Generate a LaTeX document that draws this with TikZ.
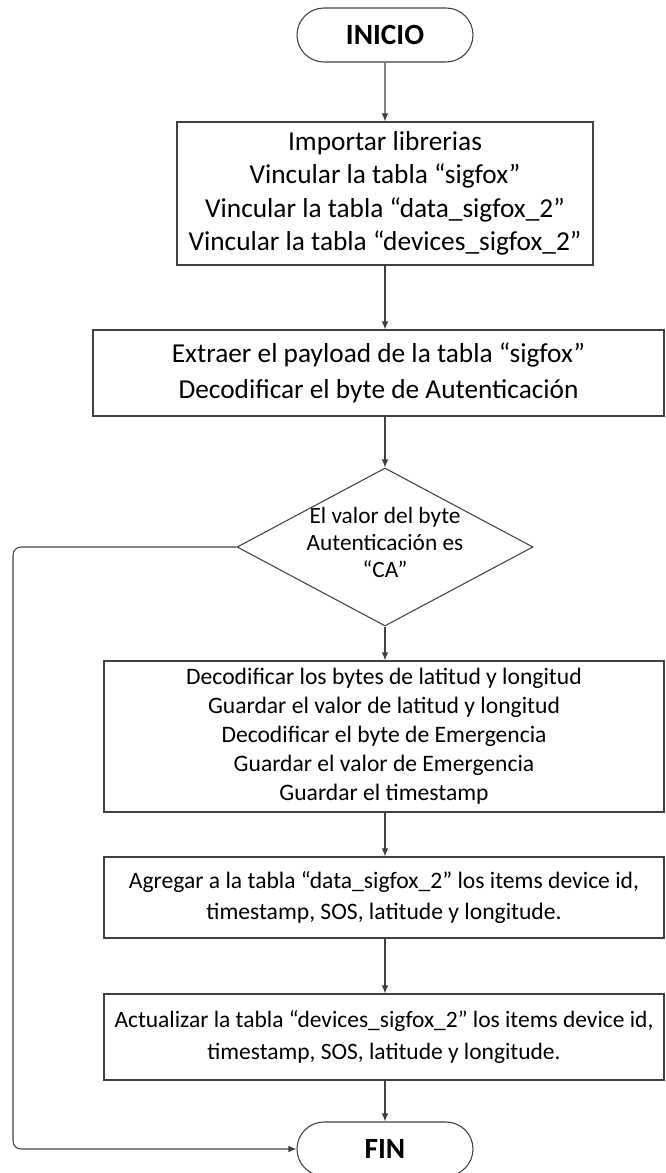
\documentclass[tikz,border=0pt]{standalone}
\usepackage{fontspec}
\setmainfont{Carlito}
\usetikzlibrary{shapes,arrows.meta,positioning}
\tikzstyle{term} = [draw=black!75,line width=0.8pt,rounded rectangle,minimum width=132pt,minimum height=40.5pt,inner sep=0,font=\fontsize{22}{26}\selectfont\bfseries]
\tikzstyle{proc} = [draw=black!75,line width=0.8pt,rectangle,align=center,inner sep=0,minimum width=420pt]
\tikzstyle{cond} = [draw=black!75,line width=0.8pt,diamond,minimum width=222pt,minimum height=118.5pt,inner sep=0]
\tikzstyle{flow} = [-{Latex[length=6pt,width=5pt]},draw=black!75,line width=0.8pt]
\def \txtbig {\fontsize{20.5}{25}\selectfont}
\def \txtsmall {\fontsize{17.7}{22}\selectfont}

\begin{document}
\begin{tikzpicture}[x=0.75pt,y=-0.75pt]
  \useasboundingbox (0,0) rectangle (665,1173);
  \node[term] (ini) at (385,35) {INICIO};
  \node[proc,minimum width=312pt,minimum height=107.25pt,font=\txtbig] (imp) at (385,193.5)
    {Importar librerias\\Vincular la tabla “sigfox”\\Vincular la tabla “data\_sigfox\_2”\\Vincular la tabla “devices\_sigfox\_2”};
  \node[proc,minimum width=428.25pt,minimum height=64.5pt,font=\fontsize{20.5}{27}\selectfont] (ext) at (378.5,373)
    {Extraer el payload de la tabla “sigfox”\\Decodificar el byte de Autenticación};
  \node[cond] (val) at (385,547) {};
  \node[align=center,inner sep=0,font=\fontsize{17.5}{20.25}\selectfont] (valtxt) at (385,542)
    {El valor del byte\\Autenticación es\\“CA”};
  \node[proc,minimum height=113.25pt,font=\fontsize{17.7}{21.75}\selectfont] (dec) at (384,736.5)
    {Decodificar los bytes de latitud y longitud\\Guardar el valor de latitud y longitud\\Decodificar el byte de Emergencia\\Guardar el valor de Emergencia\\Guardar el timestamp};
  \node[proc,minimum height=60.75pt,font=\fontsize{17.7}{23.25}\selectfont] (agr) at (384,897.5)
    {Agregar a la tabla “data\_sigfox\_2” los items device id,\\timestamp, SOS, latitude y longitude.};
  \node[proc,minimum height=64.5pt,font=\fontsize{17.6}{24}\selectfont] (act) at (384,1037)
    {Actualizar la tabla “devices\_sigfox\_2” los items device id,\\timestamp, SOS, latitude y longitude.};
  \node[term] (fin) at (385,1149) {FIN};
  \coordinate (loop) at (13,547);

  \draw[flow] (ini) -- (imp);
  \draw[flow] (imp.south) -- (imp.south |- ext.north);
  \draw[flow] (imp.south |- ext.south) -- (val.north);
  \draw[flow] (val.south) -- (val.south |- dec.north);
  \draw[flow] (val.south |- dec.south) -- (val.south |- agr.north);
  \draw[flow] (val.south |- agr.south) -- (val.south |- act.north);
  \draw[flow] (val.south |- act.south) -- (fin.north);
  \draw[flow,rounded corners=6pt] (val.west) -- (loop) -- (loop |- fin.west) -- (fin.west);
\end{tikzpicture}
\end{document}
